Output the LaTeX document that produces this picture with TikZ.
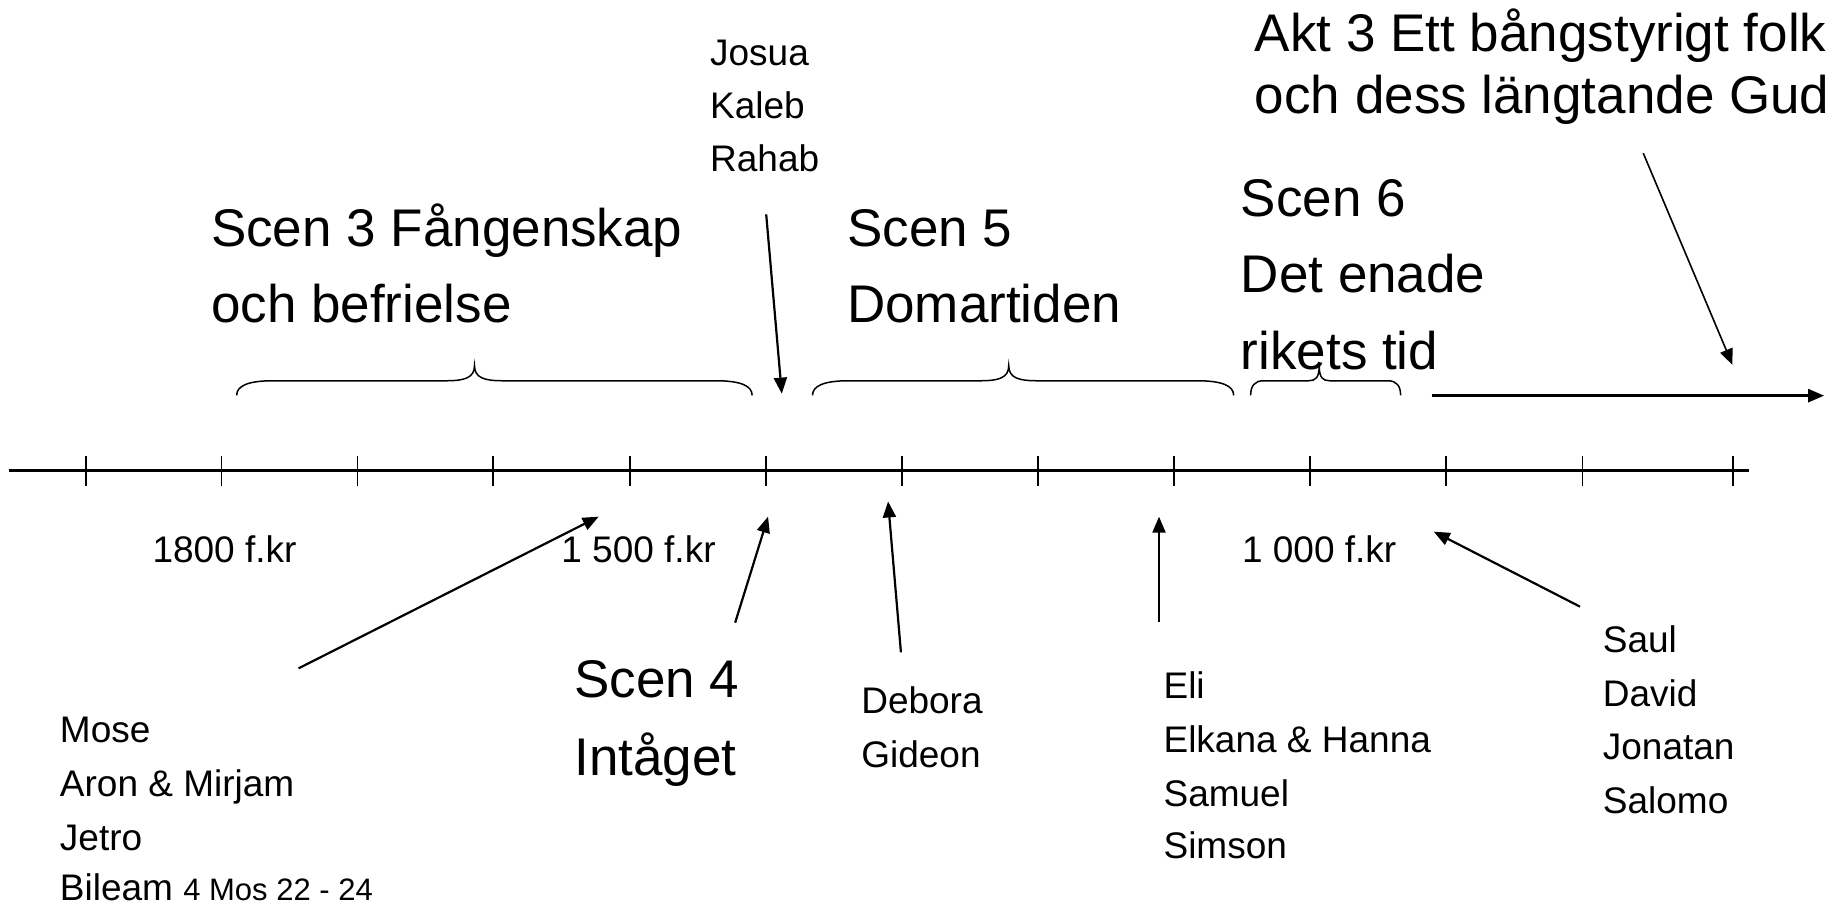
\documentclass[tikz,border=0pt]{standalone}
\usepackage{fontspec}
\setmainfont{Liberation Sans}
\usetikzlibrary{arrows.meta}
\newcommand\tlbrace[6]{%
  \draw[brc] (#1,#4) .. controls (#1,#4-8) and (#1+#5*0.3,#4-12.5) .. (#1+#5,#4-12.5)
    -- (#3-#6,#4-12.5) .. controls (#3-#6*0.35,#4-12.5) and (#3,#4-15) .. (#3,#4-25.5)
    .. controls (#3,#4-15) and (#3+#6*0.35,#4-12.5) .. (#3+#6,#4-12.5)
    -- (#2-#5,#4-12.5) .. controls (#2-#5*0.3,#4-12.5) and (#2,#4-8) .. (#2,#4);}
\begin{document}
\begin{tikzpicture}[x=1.17156pt,y=-1.17156pt,
  big/.style={anchor=base west,inner sep=0pt,font=\fontsize{53}{60}\selectfont},
  small/.style={anchor=base west,inner sep=0pt,font=\fontsize{37}{44}\selectfont},
  arr/.style={-{Triangle[length=16pt,width=13pt]},line width=2.2pt},
  tickmark/.style={line width=1.6pt},
  brc/.style={line width=1.5pt}]
\useasboundingbox (0,0) rectangle (1568,773.3);
% axis
\coordinate (axL) at (7.3,401.8);
\coordinate (axR) at (1493,401.8);
\draw[line width=2.6pt] (axL) -- (axR);
\foreach \x [count=\i] in {73.4,189.2,305.2,420.8,537.7,653.8,770,886,1002,1118,1234.2,1350.8,1479.2}{
  \coordinate (tA\i) at (\x,389.5);
  \coordinate (tB\i) at (\x,414.5);
  \draw[tickmark] (tA\i) -- (tB\i);
}
% braces
\tlbrace{202}{642}{405}{337.5}{31}{24}
\tlbrace{693.5}{1053}{861}{337.5}{31}{24}
\tlbrace{1067.5}{1195.5}{1126}{337.5}{11}{9}
% top texts
\node[big] (akt1) at (1071,44) {Akt 3 Ett bångstyrigt folk};
\node[big] (akt2) at (1071,97) {och dess längtande Gud};
\node[small] (josua) at (606,55.5) {Josua};
\node[small] (kaleb) at (606,101) {Kaleb};
\node[small] (rahab) at (606,146.5) {Rahab};
\node[big] (s3a) at (180,210) {Scen 3 Fångenskap};
\node[big] (s3b) at (180,275) {och befrielse};
\node[big] (s5a) at (723,210) {Scen 5};
\node[big] (s5b) at (723,275) {Domartiden};
\node[big] (s6a) at (1059,185) {Scen 6};
\node[big] (s6b) at (1059,250) {Det enade};
\node[big] (s6c) at (1059,315) {rikets tid};
% axis labels
\node[small] (y1800) at (130,480) {1800 f.kr};
\node[small] (y1500) at (479,480) {1 500 f.kr};
\node[small] (y1000) at (1060,480) {1 000 f.kr};
% bottom texts
\node[big] (s4a) at (490,595) {Scen 4};
\node[big] (s4b) at (490,662) {Intåget};
\node[small] (debora) at (735,609) {Debora};
\node[small] (gideon) at (735,655) {Gideon};
\node[small] (eli) at (993,596) {Eli};
\node[small] (elkana) at (993,642) {Elkana \& Hanna};
\node[small] (samuel) at (993,688) {Samuel};
\node[small] (simson) at (993,733) {Simson};
\node[small] (saul) at (1368,557) {Saul};
\node[small] (david) at (1368,603) {David};
\node[small] (jonatan) at (1368,648) {Jonatan};
\node[small] (salomo) at (1368,694) {Salomo};
\node[small] (mose) at (51,634) {Mose};
\node[small] (aron) at (51,680) {Aron \& Mirjam};
\node[small] (jetro) at (51,726) {Jetro};
\node[small] (bileam) at (51,769) {Bileam {\fontsize{31}{36}\selectfont 4 Mos 22 - 24}};
% arrows
\coordinate (jA) at (654,183);
\coordinate (jB) at (667.3,336);
\draw[arr] (jA) -- (jB);
\coordinate (aA) at (1402.6,130.7);
\coordinate (aB) at (1478.8,311.5);
\draw[arr,line width=1.6pt] (aA) -- (aB);
\coordinate (rA) at (1222,337.7);
\coordinate (rB) at (1557,337.7);
\draw[arr,line width=2.6pt] (rA) -- (rB);
\coordinate (mA) at (254.8,570.5);
\coordinate (mB) at (511,441);
\draw[arr] (mA) -- (mB);
\coordinate (iA) at (627.5,531.5);
\coordinate (iB) at (655.6,441);
\draw[arr] (iA) -- (iB);
\coordinate (dA) at (769,556.8);
\coordinate (dB) at (758,428);
\draw[arr] (dA) -- (dB);
\coordinate (eA) at (989.3,530.6);
\coordinate (eB) at (989.3,441);
\draw[arr] (eA) -- (eB);
\coordinate (sA) at (1348.6,517.8);
\coordinate (sB) at (1223.8,453.8);
\draw[arr] (sA) -- (sB);
\end{tikzpicture}
\end{document}
